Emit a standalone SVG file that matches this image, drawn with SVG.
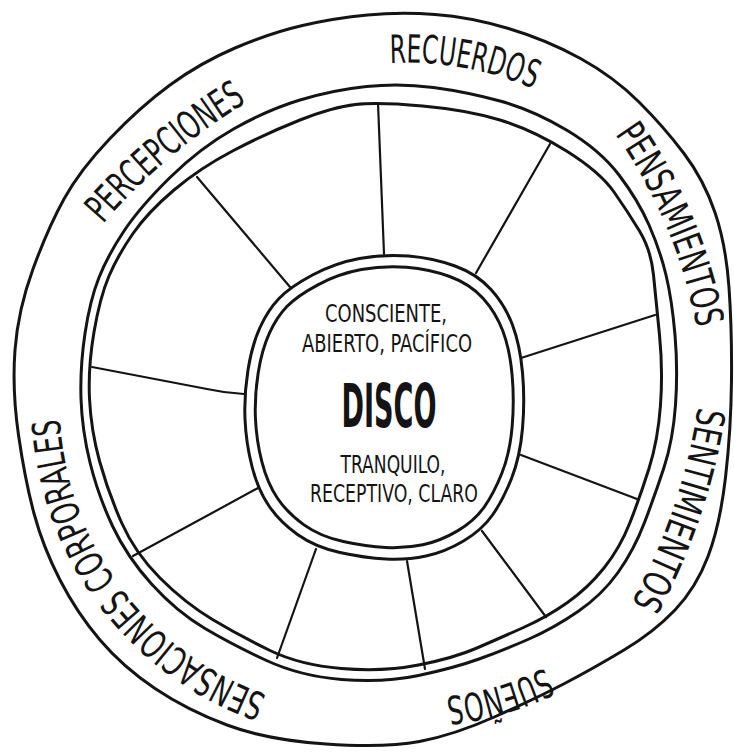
<svg xmlns="http://www.w3.org/2000/svg" xmlns:xlink="http://www.w3.org/1999/xlink" width="734" height="752" viewBox="0 0 734 752">
<style>
.ln{fill:none;stroke:#141414;stroke-width:3;stroke-linejoin:round;stroke-linecap:round}
.sp{fill:none;stroke:#141414;stroke-width:2.2;stroke-linecap:round}
.lab{font-family:'Liberation Sans Narrow','DejaVu Sans Condensed','Liberation Sans',sans-serif;font-size:39px;fill:#141414}
.ctr{font-family:'Liberation Sans Narrow','DejaVu Sans Condensed','Liberation Sans',sans-serif;fill:#141414;text-anchor:middle}
</style>
<defs>
<path id="centerShape" d="M359.5,258.5 Q384,254 408.5,256 Q433,258 455,266 Q477,274 491,289.5 Q505,305 512.5,325 Q520,345 522.5,372.5 Q525,400 522.5,428.5 Q520,457 511.5,478.5 Q503,500 492.5,515 Q482,530 463.5,541 Q445,552 426,556 Q407,560 386,559 Q365,558 340,552.5 Q315,547 297.5,534.5 Q280,522 269,506 Q258,490 252,466.5 Q246,443 245,419 Q244,395 248,370 Q252,345 260,327.5 Q268,310 279,298.5 Q290,287 312.5,275 Q335,263 359.5,258.5 Z"/>
<path id="pPerc" d="M103,224 A600,600 0 0 1 244,104"/>
<path id="pRec" d="M390,63 A325,325 0 0 1 534,89"/>
<path id="pPens" d="M615,134 A500,500 0 0 1 697,329"/>
<path id="pSent" d="M698,407 A600,600 0 0 1 632,602"/>
<path id="pSuen" d="M545,668 A320,320 0 0 1 446,697"/>
<path id="pSens" d="M267,695 A310,310 0 0 1 60,420"/>
</defs>
<rect width="734" height="752" fill="#ffffff"/>

<g id="outer-ring">
<path class="ln" d="M367.5,15 Q400,12 435,14.5 Q470,17 508.5,28.5 Q547,40 580.5,58.5 Q614,77 639,102 Q664,127 684,153.5 Q704,180 715,212.5 Q726,245 729,287.5 Q732,330 731.5,380 Q731,430 725.5,477.5 Q720,525 708,556.5 Q696,588 675,610 Q654,632 624,650 Q594,668 565.5,683 Q537,698 495.5,716.5 Q454,735 419.5,741.5 Q385,748 326,744 Q267,740 227,725 Q187,710 155,688.5 Q123,667 100,640 Q77,613 60,580 Q43,547 34,513.5 Q25,480 18.5,435 Q12,390 15,350 Q18,310 33,269 Q48,228 64,199 Q80,170 110,138.5 Q140,107 170,85 Q200,63 235,48 Q270,33 302.5,25.5 Q335,18 367.5,15 Z"/>
</g>

<g id="label-percepciones"><text class="lab"><textPath xlink:href="#pPerc" href="#pPerc" textLength="189" lengthAdjust="spacingAndGlyphs">PERCEPCIONES</textPath></text></g>
<g id="label-recuerdos"><text class="lab"><textPath xlink:href="#pRec" href="#pRec" textLength="147" lengthAdjust="spacingAndGlyphs">RECUERDOS</textPath></text></g>
<g id="label-pensamientos"><text class="lab"><textPath xlink:href="#pPens" href="#pPens" textLength="212" lengthAdjust="spacingAndGlyphs">PENSAMIENTOS</textPath></text></g>
<g id="label-sentimientos"><text class="lab"><textPath xlink:href="#pSent" href="#pSent" textLength="208" lengthAdjust="spacingAndGlyphs">SENTIMIENTOS</textPath></text></g>
<g id="label-suenos"><text class="lab"><textPath xlink:href="#pSuen" href="#pSuen" textLength="104" lengthAdjust="spacingAndGlyphs">SUEÑOS</textPath></text></g>
<g id="label-sensaciones"><text class="lab"><textPath xlink:href="#pSens" href="#pSens" textLength="366" lengthAdjust="spacingAndGlyphs">SENSACIONES CORPORALES</textPath></text></g>

<g id="inner-ring">
<path class="ln" d="M366.5,86.5 Q400,83 433.5,87.5 Q467,92 500,101 Q533,110 566.5,130 Q600,150 619,175 Q638,200 649,225 Q660,250 666,275 Q672,300 675,335 Q678,370 675.5,405 Q673,440 664,467.5 Q655,495 644.5,522.5 Q634,550 618,572.5 Q602,595 578,611.5 Q554,628 529,639 Q504,650 479,659 Q454,668 418.5,675.5 Q383,683 341.5,679.5 Q300,676 266.5,660.5 Q233,645 205,628.5 Q177,612 152,584.5 Q127,557 112.5,526 Q98,495 90,462.5 Q82,430 81,398.5 Q80,367 85,333.5 Q90,300 99,277.5 Q108,255 124,231 Q140,207 170,177.5 Q200,148 233.5,129 Q267,110 300,100 Q333,90 366.5,86.5 Z"/>
<path class="ln" d="M355.5,104.5 Q378,102 422.5,106 Q467,110 500,120 Q533,130 566.5,151 Q600,172 614,192 Q628,212 639.5,231 Q651,250 653.5,275 Q656,300 659.5,335 Q663,370 660.5,405 Q658,440 649,468.5 Q640,497 630,522.5 Q620,548 604,568 Q588,588 567.5,602.5 Q547,617 523.5,627.5 Q500,638 477,648 Q454,658 418.5,665 Q383,672 341.5,668.5 Q300,665 270,650.5 Q240,636 212.5,619.5 Q185,603 160,578 Q135,553 121.5,522.5 Q108,492 99.5,461 Q91,430 89.5,398.5 Q88,367 94,332 Q100,297 109,276 Q118,255 133,233.5 Q148,212 174,190 Q200,168 233.5,150.5 Q267,133 300,120 Q333,107 355.5,104.5 Z"/>
</g>

<g id="spokes">
<path class="sp" d="M378,103 L384,254"/>
<path class="sp" d="M550,144 L476,273"/>
<path class="sp" d="M655,315 L521,358"/>
<path class="sp" d="M521,455 L637,499"/>
<path class="sp" d="M482,531 L546,617"/>
<path class="sp" d="M407,561 L425,669"/>
<path class="sp" d="M316,549 L277,658"/>
<path class="sp" d="M258,488 L133,556"/>
<path class="sp" d="M92,367 L207,389 Q225,393 244,394"/>
<path class="sp" d="M197,177 L290,287"/>
</g>

<g id="center-disc">
<use xlink:href="#centerShape" href="#centerShape" fill="#ffffff" stroke="#141414" stroke-width="3" stroke-linejoin="round"/>
<use xlink:href="#centerShape" href="#centerShape" fill="none" stroke="#141414" stroke-width="3.2" stroke-linejoin="round" transform="matrix(0.925 0 0 0.925 28.8 30.45)"/>
<text class="ctr" x="386" y="322" font-size="25" textLength="122" lengthAdjust="spacingAndGlyphs">CONSCIENTE,</text>
<text class="ctr" x="387" y="352" font-size="24" textLength="170" lengthAdjust="spacingAndGlyphs">ABIERTO, PACÍFICO</text>
<text class="ctr" x="389" y="427" font-size="60" font-weight="bold" textLength="95" lengthAdjust="spacingAndGlyphs">DISCO</text>
<text class="ctr" x="393" y="473" font-size="25" textLength="105" lengthAdjust="spacingAndGlyphs">TRANQUILO,</text>
<text class="ctr" x="394" y="502" font-size="25" textLength="168" lengthAdjust="spacingAndGlyphs">RECEPTIVO, CLARO</text>
</g>
</svg>
